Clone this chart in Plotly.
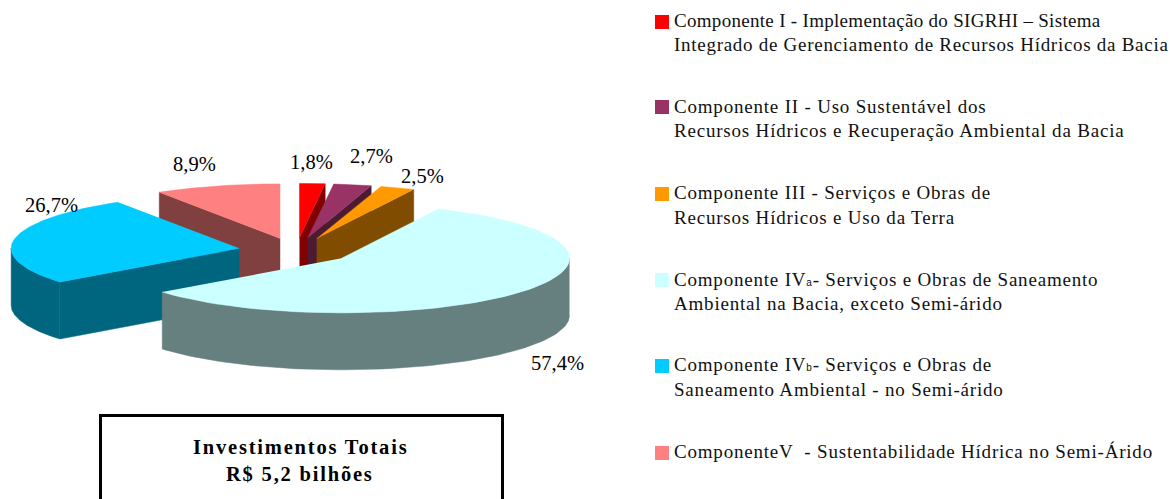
import numpy as np
import plotly.graph_objects as go

components = ["I", "II", "III", "IVa", "IVb", "V"]
shares = [1.8, 2.7, 2.5, 57.4, 26.7, 8.9]
top_colors = ["#FF0000", "#993366", "#FF9900", "#CCFFFF", "#00CCFF", "#FF8080"]
wall_colors = ["#800000", "#4D1A33", "#804D00", "#668080", "#006680", "#804040"]
legend_lines = [
    ["Componente I - Implementação do SIGRHI – Sistema",
     "Integrado de Gerenciamento de Recursos Hídricos da Bacia"],
    ["Componente II - Uso Sustentável dos",
     "Recursos Hídricos e Recuperação Ambiental da Bacia"],
    ["Componente III - Serviços e Obras de",
     "Recursos Hídricos e Uso da Terra"],
    ['Componente IV<span style="font-size:10px;font-family:Liberation Sans">a</span>- Serviços e Obras de Saneamento',
     "Ambiental na Bacia, exceto Semi-árido"],
    ['Componente IV<span style="font-size:10px;font-family:Liberation Sans">b</span>- Serviços e Obras de',
     "Saneamento Ambiental - no Semi-árido"],
    ["ComponenteV  - Sustentabilidade Hídrica no Semi-Árido"],
]
box_lines = ["Investimentos Totais", "R$ 5,2 bilhões"]

# layout geometry (pixel space of the page)
W, H = 1170, 499
CX, CY, RX, RY, DEPTH = 296.2, 250.5, 228, 54.5, 57
EXPLODE_X, EXPLODE_Y = 57.9, 12.6
DRAW_ORDER = [5, 0, 1, 2, 4, 3]
LABEL_POS = {0: (311, 162), 1: (371, 156), 2: (422, 176), 3: (557, 363), 4: (51, 205), 5: (194, 164)}
LEGEND_Y = [[20, 44], [106, 130], [192, 217], [279, 303], [364, 389], [451]]
LEGEND_SPACING = [[0.3, 0.72], [0.8, 0.8], [0.8, 0.8], [0.8, 0.8], [0.8, 0.8], [0.8]]
SWATCH_Y = [22, 107, 194, 280, 366, 453]
SERIF = "Liberation Serif"


def spaced(s, px):
    return f'<span style="letter-spacing:{px}px">{s}</span>'


fig = go.Figure()


def poly(xs, ys, color, name):
    fig.add_trace(go.Scatter(x=list(xs), y=list(ys), mode="lines", fill="toself",
                             fillcolor=color, line=dict(color=color, width=0.5),
                             hoverinfo="text", text=name, showlegend=False))


edges = np.cumsum([0] + shares) / sum(shares) * 2 * np.pi
for i in DRAW_ORDER:
    a0, a1 = edges[i], edges[i + 1]
    mid = (a0 + a1) / 2
    cx = CX + EXPLODE_X * np.sin(mid)
    cy = CY - EXPLODE_Y * np.cos(mid)
    name = f"Componente {components[i]}: {shares[i]}%"
    t = np.linspace(a0, a1, 90)
    ox, oy = cx + RX * np.sin(t), cy - RY * np.cos(t)
    # radial wall that faces the viewer
    if i in (0, 1, 2):
        ex, ey = cx + RX * np.sin(a1), cy - RY * np.cos(a1)
        poly([cx, ex, ex, cx], [cy, ey, ey + DEPTH, cy + DEPTH], wall_colors[i], name)
    if i in (4, 5):
        ex, ey = cx + RX * np.sin(a0), cy - RY * np.cos(a0)
        poly([cx, ex, ex, cx], [cy, ey, ey + DEPTH, cy + DEPTH], wall_colors[i], name)
    # outer wall: the part of the rim on the front half
    lo, hi = max(a0, np.pi / 2), min(a1, 3 * np.pi / 2)
    if lo < hi:
        w = np.linspace(lo, hi, 90)
        wx, wy = cx + RX * np.sin(w), cy - RY * np.cos(w)
        poly(np.r_[wx, wx[::-1]], np.r_[wy, wy[::-1] + DEPTH], wall_colors[i], name)
    # top face
    poly(np.r_[cx, ox], np.r_[cy, oy], top_colors[i], name)

fig.add_trace(go.Scatter(x=[662] * len(SWATCH_Y), y=SWATCH_Y, mode="markers",
                         marker=dict(symbol="square", size=14, color=top_colors, line=dict(width=0)),
                         hoverinfo="skip", showlegend=False))

for i, v in enumerate(shares):
    fig.add_annotation(x=LABEL_POS[i][0], y=LABEL_POS[i][1], text=f"{v:.1f}%".replace(".", ","),
                       showarrow=False, font=dict(family=SERIF, size=20.5, color="#000"))

for lines, ys, gaps in zip(legend_lines, LEGEND_Y, LEGEND_SPACING):
    for s, y, g in zip(lines, ys, gaps):
        fig.add_annotation(x=672, y=y, text=spaced(s, g), xanchor="left", showarrow=False,
                           font=dict(family=SERIF, size=19, color="#111"))

for s, y in zip(box_lines, (447, 474)):
    fig.add_annotation(x=300, y=y, text=spaced(f"<b>{s}</b>", 1.8), showarrow=False,
                       font=dict(family=SERIF, size=20.5, color="#000"))

fig.add_shape(type="rect", x0=100.5, x1=502.5, y0=415.5, y1=H + 10, xref="x", yref="y",
              line=dict(color="#000", width=3), fillcolor="rgba(0,0,0,0)", layer="above")

fig.update_layout(width=W, height=H, margin=dict(l=0, r=0, t=0, b=0),
                  paper_bgcolor="#fff", plot_bgcolor="#fff", showlegend=False,
                  xaxis=dict(range=[0, W], visible=False, fixedrange=True),
                  yaxis=dict(range=[H, 0], visible=False, fixedrange=True))
fig.write_html("out.html", config={"displayModeBar": False},
               post_script="document.body.style.margin='0';document.documentElement.style.overflow='hidden';")
